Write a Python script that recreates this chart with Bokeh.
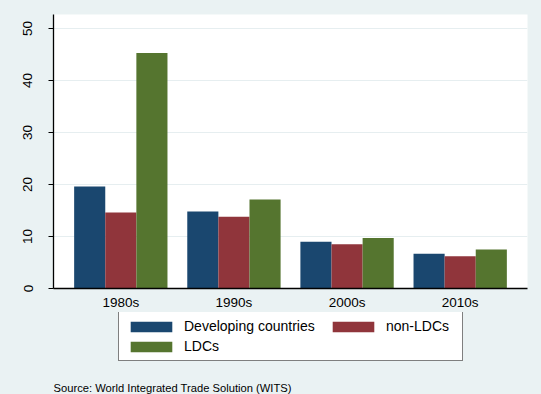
from bokeh.plotting import figure
from bokeh.layouts import column
from bokeh.models import (ColumnDataSource, FactorRange, Legend, LegendItem, Label,
                          FixedTicker, Range1d)
from bokeh.transform import dodge
from bokeh.embed import file_html
from bokeh.resources import INLINE

# ---- data ----
decades = ["1980s", "1990s", "2000s", "2010s"]
developing = [19.6, 14.8, 9.0, 6.7]
non_ldcs = [14.6, 13.8, 8.5, 6.2]
ldcs = [45.3, 17.1, 9.7, 7.5]
y_ticks = [0, 10, 20, 30, 40, 50]
series_names = ["Developing countries", "non-LDCs", "LDCs"]
source_note = "Source: World Integrated Trade Solution (WITS)"

colors = ["#1A476F", "#90353B", "#55752F"]
bg = "#EAF2F3"
font = "Liberation Sans"

src = ColumnDataSource(dict(decade=decades, dev=developing, non=non_ldcs, ldc=ldcs))

# ---- main chart ----
p = figure(
    x_range=FactorRange(*decades, range_padding=0.0475),
    y_range=(0, 52.7),
    width=541, height=312,
    output_backend="svg", toolbar_location=None,
    min_border_left=53, min_border_right=14, min_border_top=14, min_border_bottom=24,
)
p.background_fill_color = "white"
p.border_fill_color = bg
p.outline_line_color = None

bw = 0.275
for col, off, c in zip(["dev", "non", "ldc"], [-bw, 0, bw], colors):
    p.vbar(x=dodge("decade", off, range=p.x_range), top=col, width=bw,
           source=src, fill_color=c, line_color=None)

p.xaxis.major_tick_line_color = None
p.xaxis.minor_tick_line_color = None
p.xaxis.major_tick_out = 0
p.xaxis.major_tick_in = 0
p.xaxis.major_label_standoff = 6
p.xaxis.major_label_text_font = font
p.xaxis.major_label_text_font_size = "13.5px"
p.xaxis.major_label_text_color = "black"
p.xaxis.axis_line_color = "black"
p.xaxis.axis_line_width = 1.3

p.yaxis.ticker = FixedTicker(ticks=y_ticks)
p.yaxis.major_label_orientation = "vertical"
p.yaxis.major_tick_out = 5
p.yaxis.major_tick_in = 0
p.yaxis.minor_tick_line_color = None
p.yaxis.major_label_standoff = 16
p.yaxis.major_label_text_font = font
p.yaxis.major_label_text_font_size = "13.5px"
p.yaxis.major_label_text_color = "black"
p.yaxis.axis_line_color = "black"
p.yaxis.axis_line_width = 1.3
p.yaxis.major_tick_line_color = "black"

p.xgrid.grid_line_color = None
p.ygrid.grid_line_color = "#E6EEF0"
p.ygrid.grid_line_width = 1

# ---- legend + source strip ----
q = figure(width=541, height=82, output_backend="svg", toolbar_location=None,
           x_range=Range1d(0, 1), y_range=Range1d(0, 1),
           x_axis_type=None, y_axis_type=None, min_border=0)
q.background_fill_color = bg
q.border_fill_color = bg
q.outline_line_color = None
q.xgrid.visible = False
q.ygrid.visible = False

# key swatches only (zero-size bars, used by the legends)
key = {}
for name, c in zip(series_names, colors):
    key[name] = q.vbar(x=[0], top=[0], width=0, fill_color=c, line_color=None)

common = dict(
    orientation="vertical",
    glyph_width=52, glyph_height=13,
    label_standoff=7,
    label_height=13,
    spacing=4,
    padding=6,
    margin=0,
    label_text_font=font,
    label_text_font_size="14px",
    label_text_color="black",
)

legend_a = Legend(
    items=[LegendItem(label=n, renderers=[key[n]]) for n in (series_names[0], series_names[2])],
    location=(65, 33),
    label_width=272,
    border_line_color="black",
    border_line_width=1,
    background_fill_color="white",
    background_fill_alpha=1,
    **common,
)
legend_b = Legend(
    items=[LegendItem(label=series_names[1], renderers=[key[series_names[1]]])],
    location=(274, 60),
    border_line_color=None,
    background_fill_alpha=0,
    **common,
)
q.add_layout(legend_a, "center")
q.add_layout(legend_b, "center")

note = Label(x=0, y=13, x_units="screen", y_units="screen", text=source_note,
             text_font=font, text_font_size="11.2px", text_baseline="top",
             text_color="black")
q.add_layout(note)

layout = column(p, q, spacing=0)

html = file_html(layout, INLINE)
html = html.replace("<head>", "<head><style>html,body{margin:0 !important;padding:0;background:%s;}</style>" % bg, 1)
open("out.html", "w").write(html)
